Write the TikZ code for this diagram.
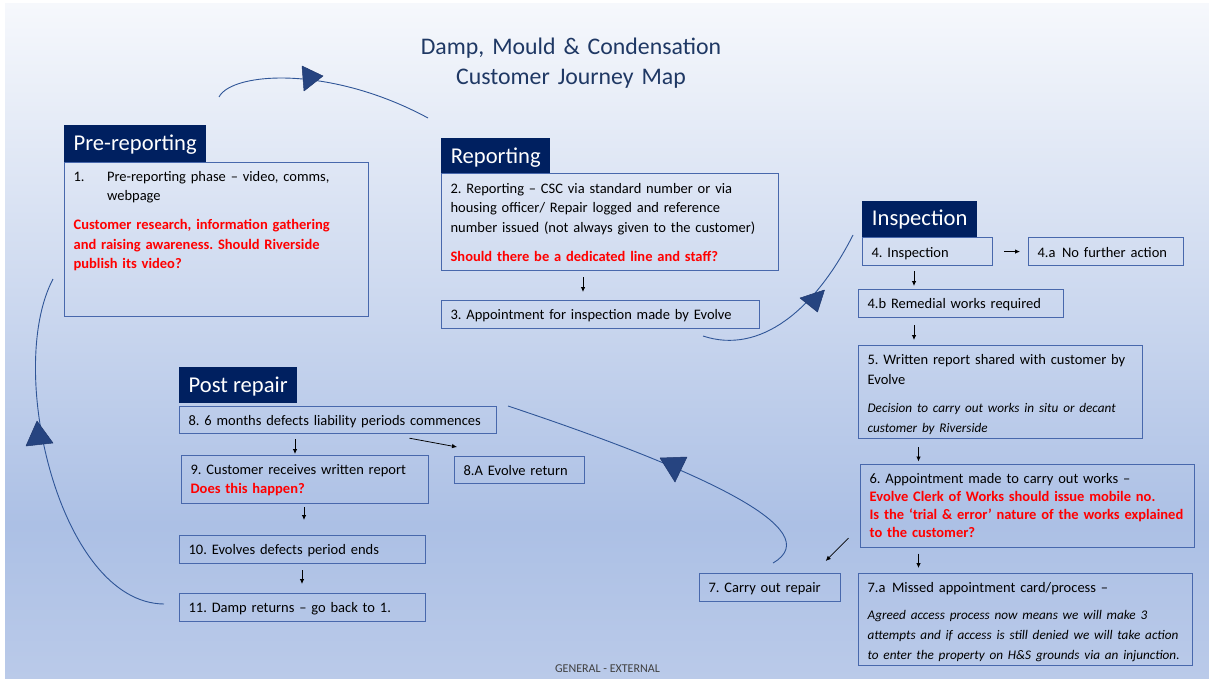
\documentclass[tikz,border=0pt]{standalone}
\usepackage{fontspec}
\setmainfont{Carlito}
\usetikzlibrary{arrows.meta,calc}
\definecolor{navy}{RGB}{0,32,96}
\definecolor{boxline}{RGB}{72,104,172}
\definecolor{curveline}{RGB}{47,85,151}
\definecolor{trifill}{RGB}{38,68,128}
\definecolor{triline}{RGB}{31,56,110}
\definecolor{titleblue}{RGB}{31,56,100}
\definecolor{bgtop}{RGB}{246,248,252}
\definecolor{bgmid}{RGB}{172,192,229}
\definecolor{bgbot}{RGB}{186,202,233}
\definecolor{warnred}{RGB}{255,0,0}
\definecolor{footgray}{RGB}{64,64,64}
\pgfdeclareverticalshading{slidebg}{100bp}{color(0bp)=(bgbot); color(25bp)=(bgbot); color(36.5bp)=(bgmid); color(75bp)=(bgtop); color(100bp)=(bgtop)}
\newcommand\warn[1]{{\color{warnred}\bfseries #1}}
\newcommand\note[1]{{\fontsize{13.2}{17.5}\selectfont\itshape #1}}
\newcommand\nb[1]{\mbox{#1}}
\tikzset{
  stepbox/.style={draw=boxline, line width=1.2pt, anchor=north west, inner xsep=9pt, inner ysep=0pt, align=left, font=\fontsize{14.5}{19.5}\selectfont\frenchspacing},
  tab/.style={fill=navy, text=white, anchor=north west, inner sep=0pt, font=\fontsize{22.6}{26}\selectfont},
  sarrow/.style={-{Latex[length=5pt,width=4.5pt]}, line width=0.75pt, black},
  flow/.style={draw=curveline, line width=0.9pt},
  tri/.style={fill=trifill, draw=triline, line width=0.5pt, line join=round},
}
\begin{document}
\begin{tikzpicture}[x=1pt,y=-1pt]
\useasboundingbox (0,0) rectangle (1209,679);
\fill[white] (0,0) rectangle (1209,679);
\shade[shading=slidebg] (5,4) rectangle (1209,679);

% title
\node[font=\fontsize{23.8}{30}\selectfont, text=titleblue, align=center, text width=440pt, anchor=north, inner sep=0pt, text height=16.5pt] (title) at (571,38) {Damp, Mould \& Condensation\\Customer Journey Map};

% Pre-reporting
\node[tab, minimum width=142pt, text height=25pt, text depth=12pt] (tpre) at (64,125) {Pre-reporting};
\node[stepbox, text width=286pt, text height=18.5pt, text depth=135.5pt] (b1) at (64,162)
 {\makebox[33.5pt][l]{1.}\nb{Pre-reporting phase – video, comms,}\\
  \hspace*{33.5pt}webpage\\[9.5pt]
  \warn{\nb{Customer research, information gathering}}\\
  \warn{\nb{and raising awareness. Should Riverside}}\\
  \warn{publish its video?}};

% Reporting
\node[tab, minimum width=109pt, text height=25pt, text depth=10pt] (trep) at (441,138) {Reporting};
\node[stepbox, text width=319pt, text height=19.5pt, text depth=77.5pt] (b2) at (441,173)
 {\nb{2. Reporting – CSC via standard number or via}\\
  \nb{housing officer/ Repair logged and reference}\\
  \nb{number issued (not always given to the customer)}\\[9.5pt]
  \warn{\nb{Should there be a dedicated line and staff?}}};
\node[stepbox, text width=300pt, text height=18.5pt, text depth=9.5pt] (b3) at (441,300)
 {\nb{3. Appointment for inspection made by Evolve}};

% Inspection
\node[tab, minimum width=115pt, text height=24pt, text depth=12pt] (tins) at (862,201) {Inspection};
\node[stepbox, text width=112pt, text height=19.5pt, text depth=8.5pt] (b4) at (862,237) {4. Inspection};
\node[stepbox, text width=137pt, text height=19.5pt, text depth=8.5pt] (b4a) at (1028,237) {\nb{4.a\hspace{0.45em}No further action}};
\node[stepbox, text width=187pt, text height=18.5pt, text depth=9.5pt] (b4b) at (858,289) {\nb{4.b Remedial works required}};
\node[stepbox, text width=266pt, text height=19pt, text depth=74pt] (b5) at (858,345)
 {\nb{5. Written report shared with customer by}\\
  Evolve\\[9pt]
  \note{\nb{Decision to carry out works in situ or decant}}\\
  \note{customer by Riverside}};
\node[stepbox, text width=316pt, text height=19pt, text depth=64pt] (b6) at (860,464)
 {\nb{6. Appointment made to carry out works –}\\[-1.5pt]
  \warn{\nb{Evolve Clerk of Works should issue mobile no.}}\\[-1.5pt]
  \warn{\nb{Is the ‘trial \& error’ nature of the works explained}}\\[-1.5pt]
  \warn{to the customer?}};
\node[stepbox, text width=123pt, text height=19pt, text depth=9pt] (b7) at (699,573) {\nb{7. Carry out repair}};
\node[stepbox, text width=316pt, text height=19pt, text depth=73pt] (b7a) at (858,573)
 {\nb{7.a\hspace{0.45em}Missed appointment card/process –}\\[7pt]
  \note{\nb{Agreed access process now means we will make 3}}\\[0.5pt]
  \note{\nb{attempts and if access is still denied we will take action}}\\[0.5pt]
  \note{\nb{to enter the property on H\&S grounds via an injunction.}}};

% Post repair
\node[tab, minimum width=118pt, text height=25pt, text depth=11pt] (tpost) at (179,367) {Post repair};
\node[stepbox, text width=299pt, text height=18.5pt, text depth=8.5pt] (b8) at (179,406) {\nb{8. 6 months defects liability periods commences}};
\node[stepbox, text width=112pt, text height=18.5pt, text depth=8.5pt] (b8a) at (454,456) {\nb{8.A Evolve return}};
\node[stepbox, text width=229pt, text height=19pt, text depth=29pt] (b9) at (181,455)
 {\nb{9. Customer receives written report}\\[-0.5pt]
  \warn{Does this happen?}};
\node[stepbox, text width=228pt, text height=19pt, text depth=9pt] (b10) at (179,535) {\nb{10. Evolves defects period ends}};
\node[stepbox, text width=228pt, text height=19pt, text depth=9pt] (b11) at (179,593) {\nb{11. Damp returns – go back to 1.}};

% footer
\node[font=\fontsize{12}{14}\selectfont, text=footgray, anchor=base, inner sep=0pt] (foot) at (607.5,672) {GENERAL - EXTERNAL};

% small arrows
\draw[sarrow, shorten <=6pt, shorten >=8pt] (b2.south -| 583,0) -- (b3.north -| 583,0);
\draw[sarrow, shorten <=11pt, shorten >=8pt] (b4.east) -- (b4a.west);
\draw[sarrow, shorten <=5pt, shorten >=3pt] (b4.south -| 914,0) -- (b4b.north -| 914,0);
\draw[sarrow, shorten <=7pt, shorten >=5pt] (b4b.south -| 914,0) -- (b5.north -| 914,0);
\draw[sarrow, shorten <=8pt, shorten >=2.5pt] (b5.south -| 918.5,0) -- (b6.north -| 918.5,0);
\draw[sarrow, shorten <=5.5pt, shorten >=5pt] (b6.south -| 918.5,0) -- (b7a.north -| 918.5,0);
\draw[sarrow] ([shift={(-11.5,-10)}]b6.south west) -- ([shift={(-15.5,-12)}]b7.north east);
\draw[sarrow, shorten <=5pt, shorten >=1pt] (b8.south -| 295,0) -- (b9.north -| 295,0);
\draw[sarrow] ([shift={(230.5,4)}]b8.south west) -- ([shift={(3,-9)}]b8a.north west);
\draw[sarrow, shorten <=3pt, shorten >=15pt] (b9.south -| 304,0) -- (b10.north -| 304,0);
\draw[sarrow, shorten <=6pt, shorten >=9pt] (b10.south -| 302,0) -- (b11.north -| 302,0);

% journey curves
\coordinate (c1s) at (219,97);  \coordinate (c1e) at (428,118);
\coordinate (c2s) at (164,604); \coordinate (c2e) at (53,279);
\coordinate (c3s) at (703,336); \coordinate (c3e) at (853,235);
\coordinate (c4s) at (508,406); \coordinate (c4e) at (773,563);
\draw[flow] (c1s) .. controls (232,72) and (330,65) .. (c1e);
\draw[flow] (c2s) .. controls (60,603) and (5,370) .. (c2e);
\draw[flow] (c3s) .. controls (760,355) and (815,310) .. (c3e);
\draw[flow] (c4s) .. controls (700,470) and (830,530) .. (c4e);
\filldraw[tri] (302,66) -- (323,76) -- (304,91) -- cycle;
\filldraw[tri] (37,421) -- (53,443) -- (26,446) -- cycle;
\filldraw[tri] (800,298) -- (824.5,290) -- (817.5,312) -- cycle;
\filldraw[tri] (660,458) -- (687,457) -- (675,482) -- cycle;
\end{tikzpicture}
\end{document}
